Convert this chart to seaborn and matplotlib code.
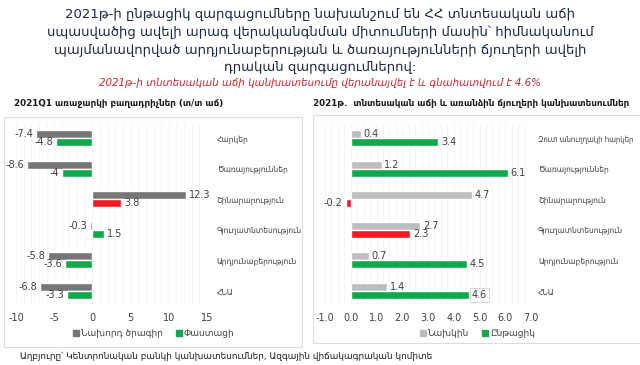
import matplotlib
matplotlib.use("Agg")
import matplotlib.pyplot as plt
from matplotlib.patches import Rectangle
from matplotlib.lines import Line2D
import pandas as pd
import seaborn as sns

# left panel: 2021Q1 supply components (y/y growth)
left_cats = ["Հարկեր", "Ծառայություններ", "Շինարարություն",
             "Գյուղատնտեսություն", "Արդյունաբերություն", "ՀՆԱ"]
left_prev = [-7.4, -8.6, 12.3, -0.3, -5.8, -6.8]
left_actual = [-4.8, -4, 3.8, 1.5, -3.6, -3.3]
left_series = ["Նախորդ ծրագիր", "Փաստացի"]

# right panel: 2021 forecasts
right_cats = ["Զուտ անուղղակի հարկեր", "Ծառայություններ", "Շինարարություն",
              "Գյուղատնտեսություն", "Արդյունաբերություն", "ՀՆԱ"]
right_prev = [0.4, 1.2, 4.7, 2.7, 0.7, 1.4]
right_curr = [3.4, 6.1, -0.2, 2.3, 4.5, 4.6]
right_series = ["Նախկին", "Ընթացիկ"]

GREEN = "#0fa84a"
RED = "#ee1c24"
DARK_GRAY = "#767676"
LIGHT_GRAY = "#bdbdbd"
TXT = "#404040"
NAVY = "#1c2845"

sns.set_theme(style="white")
plt.rcParams["font.family"] = ["DejaVu Sans"]

fig = plt.figure(figsize=(6.4, 3.65), dpi=100)
W, H = 640, 365


def px_axes(x0, y0, x1, y1):
    return fig.add_axes([x0 / W, 1 - y1 / H, (x1 - x0) / W, (y1 - y0) / H])


# panel frames
fig.patches.append(Rectangle((4 / W, 1 - 347 / H), 298 / W, 230 / H, transform=fig.transFigure,
                             fill=False, edgecolor="#dcdcdc", lw=0.8))
fig.patches.append(Rectangle((313 / W, 1 - 343 / H), 340 / W, 228 / H, transform=fig.transFigure,
                             fill=False, edgecolor="#dcdcdc", lw=0.8))


def draw_panel(ax, cats, s1, s2, names, c1, colors2, xlim, xticks, fmt_tick, minor,
               legend_x, label_pad):
    df = pd.DataFrame({
        "cat": cats * 2,
        "val": s1 + s2,
        "series": [names[0]] * len(cats) + [names[1]] * len(cats),
    })
    sns.barplot(data=df, y="cat", x="val", hue="series", orient="h", ax=ax,
                palette=[c1, GREEN], width=0.52, legend=False, saturation=1)
    for patch, col in zip(ax.containers[1], colors2):
        patch.set_facecolor(col)
    for cont in ax.containers:
        ax.bar_label(cont, fmt="%g", padding=2, fontsize=7, color=TXT)
    ax.set_xlim(*xlim)
    ax.set_ylim(5.46, -0.46)
    ax.set_xticks(xticks)
    ax.set_xticklabels([fmt_tick(t) for t in xticks], fontsize=7, color=TXT)
    ax.set_xticks(minor, minor=True)
    ax.grid(axis="x", which="both", color="#f2f2f2", lw=0.6)
    ax.set_axisbelow(True)
    ax.yaxis.tick_right()
    ax.tick_params(axis="y", length=0, pad=label_pad, labelcolor=TXT)
    for lab in ax.get_yticklabels():
        lab.set_fontsize(6)
        lab.set_fontstretch("condensed")
    ax.tick_params(axis="x", length=0, pad=6)
    ax.set_xlabel("")
    ax.set_ylabel("")
    for s in ax.spines.values():
        s.set_visible(False)
    handles = [Line2D([], [], marker="s", ls="", color=c1, markersize=4.5),
               Line2D([], [], marker="s", ls="", color=GREEN, markersize=4.5)]
    fig.legend(handles, names, loc="center", bbox_to_anchor=(legend_x / W, 1 - 334 / H), ncol=2,
               frameon=False, fontsize=6.5, handletextpad=0.1, handlelength=1.0,
               columnspacing=1.2, labelcolor=TXT)
    return ax


axl = px_axes(16, 124, 207, 305)
draw_panel(axl, left_cats, left_prev, left_actual, left_series, DARK_GRAY,
           [GREEN, GREEN, RED, GREEN, GREEN, GREEN], (-10, 15), [-10, -5, 0, 5, 10, 15],
           lambda t: f"{t:g}", list(range(-10, 16)), 153, 7)

axr = px_axes(325, 124, 531, 305)
draw_panel(axr, right_cats, right_prev, right_curr, right_series, LIGHT_GRAY,
           [GREEN, GREEN, RED, RED, GREEN, GREEN], (-1, 7), [-1, 0, 1, 2, 3, 4, 5, 6, 7],
           lambda t: f"{t:.1f}", [x / 4 for x in range(-4, 29)], 477, 5)
axr.get_yticklabels()[0].set_fontsize(5.6)
# boxed GDP label on the right
for txt in axr.texts:
    if txt.get_text() == "4.6":
        txt.set_bbox(dict(facecolor="white", edgecolor="#cfcfcf", lw=0.6, pad=1.5))

# headings
fig.text(0.5, 1 - 41 / H,
         "2021թ-ի ընթացիկ զարգացումները նախանշում են ՀՀ տնտեսական աճի\n"
         "սպասվածից ավելի արագ վերականգնման միտումների մասին՝ հիմնականում\n"
         "պայմանավորված արդյունաբերության և ծառայությունների ճյուղերի ավելի\n"
         "դրական զարգացումներով:",
         ha="center", va="center", fontsize=9.5, color=NAVY, linespacing=1.45)
fig.text(0.5, 1 - 83 / H,
         "2021թ-ի տնտեսական աճի կանխատեսումը վերանայվել է և գնահատվում է 4.6%",
         ha="center", va="center", fontsize=7.4, color="#c0272d", style="italic")
fig.text(14 / W, 1 - 104 / H, "2021Q1 առաջարկի բաղադրիչներ (տ/տ աճ)",
         ha="left", va="center", fontsize=6.3, fontweight="bold", color="#1a1a1a")
fig.text(313 / W, 1 - 104 / H, "2021թ.  տնտեսական աճի և առանձին ճյուղերի կանխատեսումներ",
         ha="left", va="center", fontsize=6.3, fontweight="bold", color="#1a1a1a")
fig.text(20 / W, 1 - 356 / H,
         "Աղբյուրը՝ Կենտրոնական բանկի կանխատեսումներ, Ազգային վիճակագրական կոմիտե",
         ha="left", va="center", fontsize=6.4, color="#1a1a1a")

fig.savefig("out.png", dpi=100, facecolor="white")
